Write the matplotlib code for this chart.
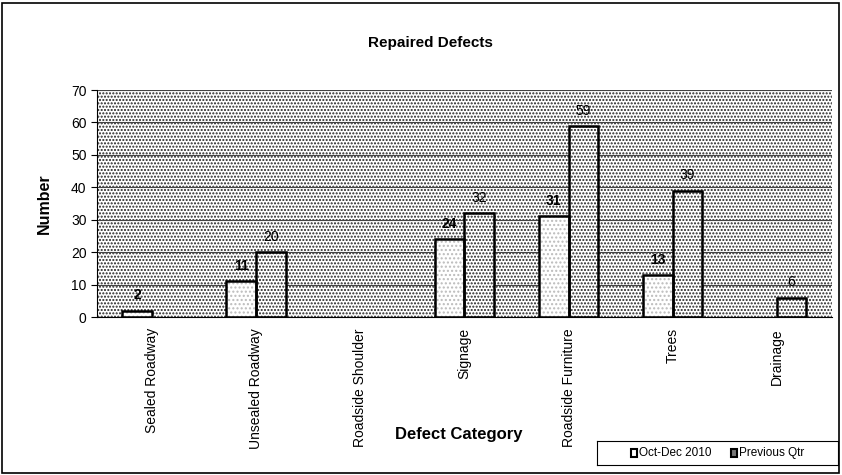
import matplotlib.pyplot as plt
import numpy as np
from matplotlib.patches import Rectangle

categories = ['Sealed Roadway', 'Unsealed Roadway', 'Roadside Shoulder', 'Signage',
              'Roadside Furniture', 'Trees', 'Drainage']
oct_dec = [2, 11, 0, 24, 31, 13, 0]
prev_qtr = [0, 20, 0, 32, 59, 39, 6]

plt.rcParams['font.family'] = ['Liberation Sans', 'DejaVu Sans']
plt.rcParams['hatch.linewidth'] = 1.0

fig = plt.figure(figsize=(8.42, 4.75), dpi=100)
ax = fig.add_axes([0.1152, 0.3326, 0.8728, 0.4779])

# dotted plot area
ax.add_patch(Rectangle((0, 0), 1, 1, transform=ax.transAxes, facecolor='white',
                       edgecolor='#222222', hatch='.....', lw=0, zorder=0))
ax.set_axisbelow(True)
ax.yaxis.grid(True, color='#444444', lw=0.8, zorder=0.5)

x = np.arange(len(categories))
w = 0.286
for i in x:
    if oct_dec[i] > 0:
        ax.bar(i - w / 2, oct_dec[i], w, facecolor='white', edgecolor='#bbbbbb', lw=0,
               hatch='....', zorder=2)
        ax.bar(i - w / 2, oct_dec[i], w, fill=False, edgecolor='black', lw=1.8, zorder=3)
        ax.text(i - w / 2, oct_dec[i] + 2.5, str(oct_dec[i]), ha='center',
                va='bottom', fontsize=10, fontweight='bold')
    if prev_qtr[i] > 0:
        ax.bar(i + w / 2, prev_qtr[i], w, facecolor='white', edgecolor='#222222', lw=0,
               hatch='.....', zorder=2)
        ax.bar(i + w / 2, prev_qtr[i], w, fill=False, edgecolor='black', lw=1.8, zorder=3)
        ax.text(i + w / 2, prev_qtr[i] + 2.5, str(prev_qtr[i]), ha='center',
                va='bottom', fontsize=10)

ax.set_xlim(-0.53, len(categories) - 0.47)
ax.set_ylim(0, 70)
ax.set_yticks(range(0, 71, 10))
ax.set_xticks(x)
ax.set_xticklabels(categories, rotation=90, fontsize=10)
ax.tick_params(axis='y', labelsize=10, length=4)
ax.tick_params(axis='x', length=0, pad=8)
for s in ax.spines.values():
    s.set_visible(False)
ax.spines['left'].set_visible(True)
ax.spines['bottom'].set_visible(True)

fig.text(430 / 842, 1 - 43 / 475, 'Repaired Defects', ha='center', va='center',
         fontsize=11, fontweight='bold')
ax.set_ylabel('Number', fontsize=11.5, fontweight='bold', labelpad=14)
fig.text(459 / 842, 1 - 435 / 475, 'Defect Category', ha='center', va='center',
         fontsize=12, fontweight='bold')

# legend box
leg_ax = fig.add_axes([597 / 842, 1 - 465 / 475, 241 / 842, 24 / 475])
leg_ax.set_xticks([])
leg_ax.set_yticks([])
leg_ax.set_xlim(0, 1)
leg_ax.set_ylim(0, 1)
leg_ax.add_patch(Rectangle((0.14, 0.35), 0.025, 0.3, facecolor='white', edgecolor='black', lw=1.5))
leg_ax.text(0.175, 0.5, 'Oct-Dec 2010', va='center', fontsize=8.5)
leg_ax.add_patch(Rectangle((0.555, 0.35), 0.025, 0.3, facecolor='#777777', edgecolor='black', lw=1.5))
leg_ax.text(0.59, 0.5, 'Previous Qtr', va='center', fontsize=8.5)

# outer border
fig.patches.append(Rectangle((2 / 842, 2 / 475), 837 / 842, 470 / 475, transform=fig.transFigure,
                             fill=False, edgecolor='black', lw=1.2))

fig.savefig('out.png', dpi=100)
